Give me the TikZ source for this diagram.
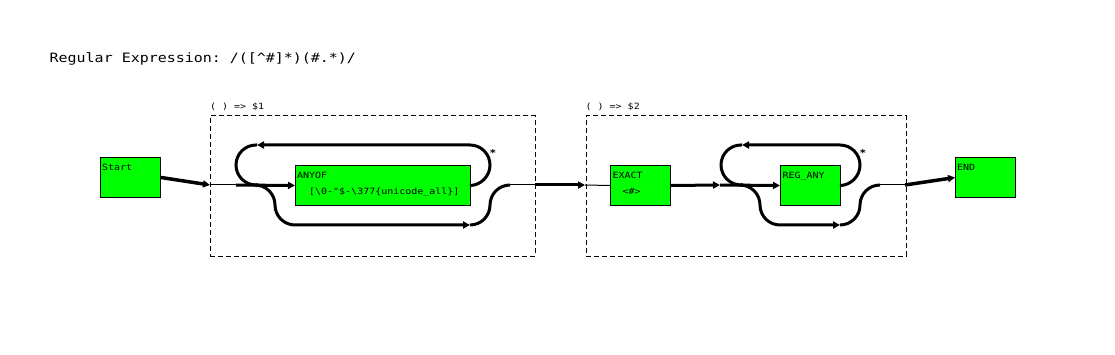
\documentclass[tikz,border=0pt]{standalone}
\usepackage{fontspec}
\setmonofont{DejaVu Sans Mono}[FakeStretch=1.16]
\usetikzlibrary{arrows.meta}
\definecolor{boxgreen}{HTML}{00FF00}
\tikzset{
  opbox/.style={draw=black, line width=1pt, fill=boxgreen, rectangle, inner sep=0pt, anchor=north west},
  grpbox/.style={draw=black, line width=0.9pt, dash pattern=on 5pt off 3pt},
  lbl/.style={inner sep=0pt, anchor=base west, font=\ttfamily\fontsize{8.6}{10}\selectfont},
  ttl/.style={inner sep=0pt, anchor=base west, font=\ttfamily\fontsize{12.9}{15}\selectfont},
  thin/.style={draw=black, line width=1pt},
  thickl/.style={draw=black, line width=3pt},
  arr/.style={-{Triangle[length=7pt,width=7pt]}},
  rc/.style={rounded corners=20pt},
}
\begin{document}
\begin{tikzpicture}[x=1pt,y=-1pt]
\useasboundingbox (0,0) rectangle (1115,355);

% title
\node[ttl] (title) at (49.5,62.5) {Regular Expression: /([\textasciicircum\#]*)(\#.*)/};

% groups
\node[grpbox, rectangle, inner sep=0pt, anchor=north west, minimum width=325pt, minimum height=140pt] (g1) at (210,115.5) {};
\node[grpbox, rectangle, inner sep=0pt, anchor=north west, minimum width=320pt, minimum height=140pt] (g2) at (585.5,115.5) {};
\node[lbl] (g1l) at (210,110) {( ) => \$1};
\node[lbl] (g2l) at (585.5,110) {( ) => \$2};

% op boxes
\node[opbox, minimum width=60pt, minimum height=40pt] (start) at (100,157) {};
\node[opbox, minimum width=175pt, minimum height=40pt] (anyof) at (295,165) {};
\node[opbox, minimum width=60pt, minimum height=40pt] (exact) at (610,165) {};
\node[opbox, minimum width=60pt, minimum height=40pt] (regany) at (780,165) {};
\node[opbox, minimum width=60pt, minimum height=40pt] (endn) at (955,157) {};

% texts
\node[lbl] (startt) at (102,171) {Start};
\node[lbl] (anyoft) at (297,178.5) {ANYOF};
\node[lbl] (anyoft2) at (309,195) {[\textbackslash0-"\$-\textbackslash377\{unicode\_all\}]};
\node[lbl] (exactt) at (612.5,178.5) {EXACT};
\node[lbl] (exactt2) at (622.5,194.5) {<\#>};
\node[lbl] (reganyt) at (782.5,178.5) {REG\_ANY};
\node[lbl] (endt) at (957,171) {END};
\node[lbl, anchor=base, font=\ttfamily\bfseries\fontsize{9.5}{10}\selectfont] (star1) at (493,157) {*};
\node[lbl, anchor=base, font=\ttfamily\bfseries\fontsize{9.5}{10}\selectfont] (star2) at (863,157) {*};

% coordinates
\coordinate (g1in) at (210,185);
\coordinate (j1) at (236,185);
\coordinate (lp1) at (257,145);
\coordinate (b1s) at (255,185);
\coordinate (b1e) at (470,225);
\coordinate (j1o) at (510,185);
\coordinate (g1out) at (535,185);
\coordinate (g2in) at (585,185);
\coordinate (j2) at (720,185);
\coordinate (lp2) at (742,145);
\coordinate (b2s) at (740,185);
\coordinate (b2e) at (840,225);
\coordinate (j2o) at (880,185);
\coordinate (g2out) at (905,185);

% start to group 1
\draw[thickl, line width=3.5pt, arr] (start.east) -- (g1in);
\draw[thin] (g1in) -- (j1);
\draw[thickl, arr] (j1) -- (anyof.west);
% loop 1
\draw[thickl, rc, arr] (anyof.east) -- (490,185) -- (490,145) -- (lp1);
\draw[thickl, rc] (lp1) -- (236,145) -- (236,185) -- (258,185);
% bypass 1
\draw[thickl, rc, arr] (b1s) -- (275,185) -- (275,225) -- (b1e);
\draw[thickl, rc] (b1e) -- (490,225) -- (490,185) -- (j1o);
\draw[thin] (j1o) -- (g1out);

% group1 to group2
\draw[thickl, arr] (g1out) -- (g2in);
\draw[thin] (g2in) -- (exact.west);
\draw[thickl, arr] (exact.east) -- (j2);
\draw[thickl, arr] (j2) -- (regany.west);
% loop 2
\draw[thickl, rc, arr] (regany.east) -- (860,185) -- (860,145) -- (lp2);
\draw[thickl, rc] (lp2) -- (721,145) -- (721,185) -- (743,185);
% bypass 2
\draw[thickl, rc, arr] (b2s) -- (760,185) -- (760,225) -- (b2e);
\draw[thickl, rc] (b2e) -- (860,225) -- (860,185) -- (j2o);
\draw[thin] (j2o) -- (g2out);
\draw[thickl, line width=3.5pt, arr] (g2out) -- (endn.west);
\end{tikzpicture}
\end{document}
